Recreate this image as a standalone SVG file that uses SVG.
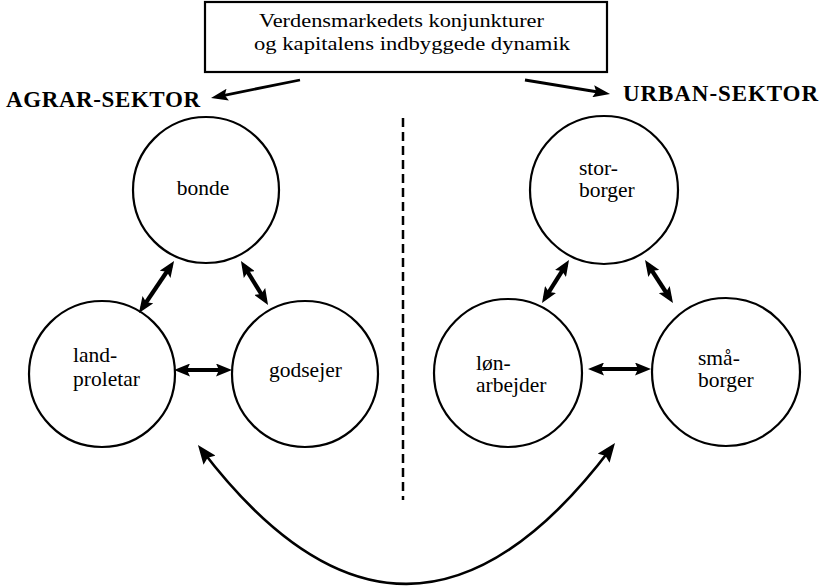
<svg xmlns="http://www.w3.org/2000/svg" width="827" height="586" viewBox="0 0 827 586">
<defs>
<style>
.node circle{fill:#fff;stroke:#000;stroke-width:2.2}
text{font-family:"Liberation Serif","Times New Roman",serif;fill:#000}
.lbl{font-size:21.5px}
.sec{font-size:23px;font-weight:bold}
.box{font-size:19px}
.dbl{stroke:#000;stroke-width:4.2;fill:none;marker-start:url(#h);marker-end:url(#h)}
.top{stroke:#000;stroke-width:2.8;fill:none;marker-end:url(#ht)}
.arc{stroke:#000;stroke-width:2.6;fill:none;marker-start:url(#hb);marker-end:url(#hb)}
</style>
<marker id="h" markerUnits="userSpaceOnUse" markerWidth="17" markerHeight="13" refX="10" refY="6.5" orient="auto-start-reverse" viewBox="0 0 17 13">
<path d="M0,0 L16,6.5 L0,13 L3,6.5 z" fill="#000"/>
</marker>
<marker id="ht" markerUnits="userSpaceOnUse" markerWidth="18" markerHeight="12" refX="11" refY="6" orient="auto-start-reverse" viewBox="0 0 18 12">
<path d="M0,0 L17,6 L0,12 L3,6 z" fill="#000"/>
</marker>
<marker id="hb" markerUnits="userSpaceOnUse" markerWidth="20" markerHeight="15" refX="13" refY="7.5" orient="auto-start-reverse" viewBox="0 0 20 15">
<path d="M0,0 L19,7.5 L0,15 L3,7.5 z" fill="#000"/>
</marker>
</defs>
<rect width="827" height="586" fill="#fff"/>

<g id="top-box">
<rect x="205" y="2" width="402" height="70" fill="#fff" stroke="#000" stroke-width="2.2"/>
<text class="box" x="259" y="27" textLength="285" lengthAdjust="spacingAndGlyphs">Verdensmarkedets konjunkturer</text>
<text class="box" x="254" y="50" textLength="316" lengthAdjust="spacingAndGlyphs">og kapitalens indbyggede dynamik</text>
</g>

<g id="agrar-label"><text class="sec" x="6" y="107" textLength="194" lengthAdjust="spacing">AGRAR-SEKTOR</text></g>
<g id="urban-label"><text class="sec" x="623" y="101" textLength="195" lengthAdjust="spacing">URBAN-SEKTOR</text></g>

<g id="bonde" class="node"><circle cx="206" cy="190" r="73"/><text class="lbl" x="203" y="195" text-anchor="middle">bonde</text></g>
<g id="landproletar" class="node"><circle cx="102" cy="374" r="73"/><text class="lbl" x="73" y="362">land-</text><text class="lbl" x="73" y="386">proletar</text></g>
<g id="godsejer" class="node"><circle cx="305" cy="374" r="73"/><text class="lbl" x="269" y="377">godsejer</text></g>

<g id="storborger" class="node"><circle cx="604" cy="190" r="74"/><text class="lbl" x="579" y="175">stor-</text><text class="lbl" x="579" y="197">borger</text></g>
<g id="lonarbejder" class="node"><circle cx="508" cy="373" r="74"/><text class="lbl" x="476" y="370">løn-</text><text class="lbl" x="476" y="392">arbejder</text></g>
<g id="smaborger" class="node"><circle cx="726" cy="372" r="74"/><text class="lbl" x="698" y="365">små-</text><text class="lbl" x="698" y="387">borger</text></g>

<g id="connectors">
<line class="top" x1="300" y1="80" x2="216.9" y2="96.8"/>
<line class="top" x1="525" y1="80" x2="604.1" y2="93"/>
<line x1="403" y1="118" x2="403" y2="500" stroke="#000" stroke-width="2.5" stroke-dasharray="9,5"/>
<line class="dbl" x1="170.7" y1="266" x2="142.3" y2="308"/>
<line class="dbl" x1="244.1" y1="266.1" x2="264.9" y2="299.9"/>
<line class="dbl" x1="180" y1="370" x2="226" y2="370"/>
<line class="dbl" x1="565.8" y1="265.1" x2="545.2" y2="297.9"/>
<line class="dbl" x1="648.3" y1="265" x2="669.7" y2="298"/>
<line class="dbl" x1="594" y1="369" x2="645" y2="369"/>
<path class="arc" d="M201.6,449.8 Q407,719 611.4,447.8"/>
</g>
</svg>
